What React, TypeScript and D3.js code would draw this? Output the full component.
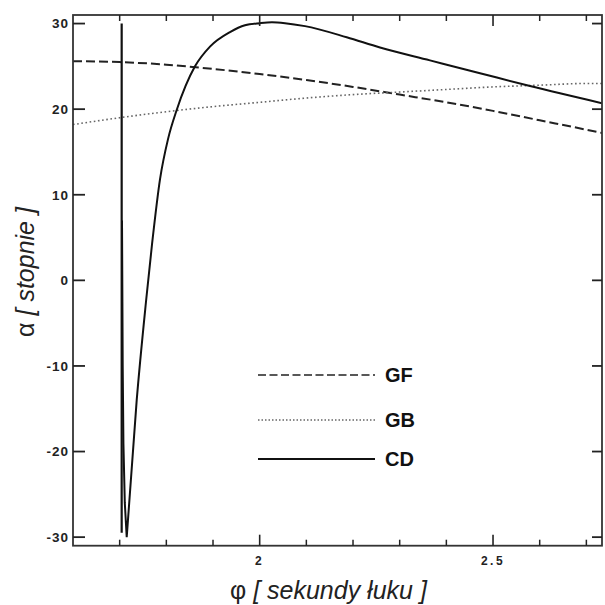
import React from "react";
import * as d3 from "d3";

// GF (dashed)
const gfPhi = [1.6, 1.7, 1.8, 1.9, 2.0, 2.1, 2.2, 2.3, 2.4, 2.5, 2.6, 2.7, 2.735];
const gfAlpha = [25.6, 25.5, 25.2, 24.7, 24.1, 23.4, 22.6, 21.7, 20.8, 19.8, 18.7, 17.6, 17.2];

// GB (dotted)
const gbPhi = [1.6, 1.7, 1.8, 1.9, 2.0, 2.1, 2.2, 2.3, 2.4, 2.5, 2.6, 2.7, 2.735];
const gbAlpha = [18.2, 19.0, 19.7, 20.3, 20.8, 21.3, 21.7, 22.0, 22.3, 22.6, 22.8, 23.0, 23.0];

// CD (solid) – vertical spike near the singularity
const cdSpikePhi = [1.7043, 1.7043];
const cdSpikeAlpha = [30, -29.5];

// CD (solid) – main branch
const cdPhi = [1.705, 1.7065, 1.708, 1.711, 1.7151, 1.7365, 1.7564, 1.7693, 1.7864, 1.8036, 1.8222, 1.8614, 1.8935, 1.9364, 1.9685, 2.0007, 2.0264, 2.0543, 2.0971, 2.1865, 2.2578, 2.3649, 2.4721, 2.5792, 2.7335];
const cdAlpha = [7, -10, -19, -26, -30, -14, -2.5, 4.2, 11.8, 16.5, 19.9, 25.0, 27.3, 29.0, 29.8, 30.05, 30.15, 30.05, 29.7, 28.4, 27.2, 25.7, 24.2, 22.7, 20.7];

const yTicks = [30, 20, 10, 0, -10, -20, -30];
const xMajorTicks = [2, 2.5];
const xMinorTicks = [1.7, 1.8, 1.9, 2.1, 2.2, 2.3, 2.4, 2.6, 2.7];

const legendNames = ["GF", "GB", "CD"];

export default function App() {
  const W = 605, H = 605;
  const left = 73, right = 602, top = 15, bottom = 545.7;
  const x = d3.scaleLinear().domain([1.6, 2.7335]).range([left, right]);
  const y = d3.scaleLinear().domain([-31, 31]).range([bottom, top]);

  const toPts = (xs: number[], ys: number[]) => xs.map((v, i) => [v, ys[i]] as [number, number]);
  const lineSmooth = d3.line<[number, number]>().x(d => x(d[0])).y(d => y(d[1])).curve(d3.curveMonotoneX);
  const lineStraight = d3.line<[number, number]>().x(d => x(d[0])).y(d => y(d[1]));

  const gfPath = lineSmooth(toPts(gfPhi, gfAlpha)) || "";
  const gbPath = lineSmooth(toPts(gbPhi, gbAlpha)) || "";
  const cdSpike = lineStraight(toPts(cdSpikePhi, cdSpikeAlpha)) || "";
  const cdPts = toPts(cdPhi, cdAlpha);
  const cdPath = (lineStraight(cdPts.slice(0, 5)) || "") + " " + (lineSmooth(cdPts.slice(4)) || "");

  const tickFont = "'Liberation Sans', Arial, Helvetica, sans-serif";
  const legendY = [375, 420, 459];
  const legendStyles = [
    { dash: "8,3.5", color: "#222", w: 1.6 },
    { dash: "1.5,2", color: "#666", w: 1.5 },
    { dash: "none", color: "#111", w: 1.8 },
  ];

  return (
    <svg width={W} height={H} style={{ position: "absolute", left: 0, top: 0, background: "#fff" }}>
      <rect x={0} y={0} width={W} height={H} fill="#fff" />
      <defs>
        <clipPath id="plotclip">
          <rect x={left} y={top} width={right - left} height={bottom - top} />
        </clipPath>
      </defs>

      {/* curves */}
      <g clipPath="url(#plotclip)" fill="none">
        <path d={gfPath} stroke="#222" strokeWidth={2} strokeDasharray="9,4" />
        <path d={gbPath} stroke="#666" strokeWidth={1.6} strokeDasharray="1.6,2.6" />
        <path d={cdSpike} stroke="#111" strokeWidth={2.2} />
        <path d={cdPath} stroke="#111" strokeWidth={2} strokeLinejoin="round" />
      </g>

      {/* frame */}
      <rect x={left} y={top} width={right - left} height={bottom - top} fill="none" stroke="#333" strokeWidth={1.8} />

      {/* y ticks */}
      {yTicks.map(t => (
        <g key={"y" + t}>
          <line x1={left} x2={left + 12} y1={y(t)} y2={y(t)} stroke="#222" strokeWidth={1.8} />
          <line x1={right} x2={right - 10} y1={y(t)} y2={y(t)} stroke="#222" strokeWidth={1.8} />
          <text x={left - 4} y={y(t)} dy="0.36em" textAnchor="end" fontFamily={tickFont} fontWeight="bold" fontSize={13.5} letterSpacing={1} fill="#222">
            {t}
          </text>
        </g>
      ))}

      {/* x ticks */}
      {xMajorTicks.map(t => (
        <g key={"xM" + t}>
          <line x1={x(t)} x2={x(t)} y1={bottom} y2={bottom - 11} stroke="#222" strokeWidth={1.6} />
          <line x1={x(t)} x2={x(t)} y1={top} y2={top + 11} stroke="#222" strokeWidth={1.6} />
          <text x={x(t)} y={565} textAnchor="middle" fontFamily={tickFont} fontWeight="bold" fontSize={12} letterSpacing={2.5} fill="#222">
            {String(t)}
          </text>
        </g>
      ))}
      {xMinorTicks.map(t => (
        <g key={"xm" + t}>
          <line x1={x(t)} x2={x(t)} y1={bottom} y2={bottom - 6} stroke="#222" strokeWidth={1.5} />
          <line x1={x(t)} x2={x(t)} y1={top} y2={top + 6} stroke="#222" strokeWidth={1.5} />
        </g>
      ))}

      {/* axis titles */}
      <text x={230} y={599} fontFamily={tickFont} fontSize={25} fill="#222">
        <tspan>φ </tspan>
        <tspan fontStyle="italic">[ sekundy łuku ]</tspan>
      </text>
      <text transform="translate(34,272) rotate(-90)" textAnchor="middle" fontFamily={tickFont} fontSize={25} fill="#222">
        <tspan>α </tspan>
        <tspan fontStyle="italic">[ stopnie ]</tspan>
      </text>

      {/* legend */}
      {legendNames.map((n, i) => (
        <g key={n}>
          <line x1={258} x2={375} y1={legendY[i]} y2={legendY[i]} stroke={legendStyles[i].color} strokeWidth={legendStyles[i].w}
            strokeDasharray={legendStyles[i].dash} />
          <text x={385} y={legendY[i] + 7} fontFamily={tickFont} fontWeight="bold" fontSize={20} fill="#111">
            {n}
          </text>
        </g>
      ))}
    </svg>
  );
}
